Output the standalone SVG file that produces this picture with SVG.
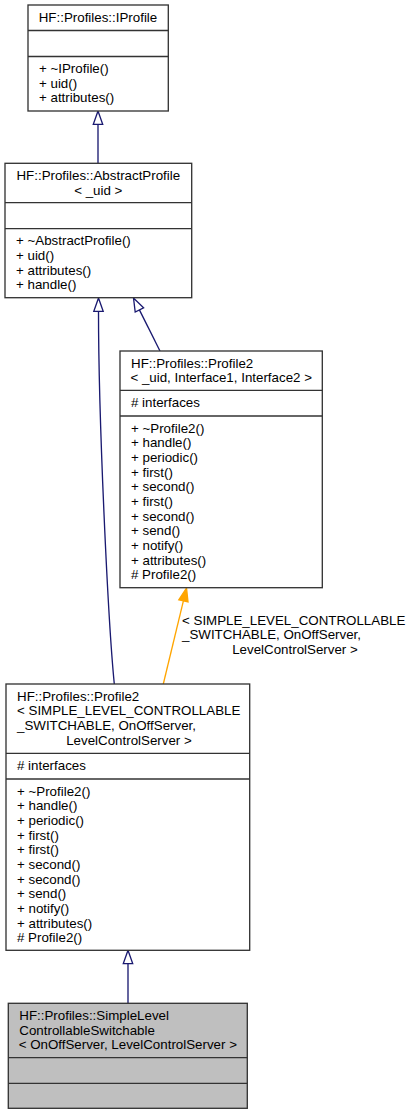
<svg xmlns="http://www.w3.org/2000/svg" width="412" height="1115" viewBox="0 0 412 1115">
<style>
.box{fill:#ffffff;stroke:#333333;stroke-width:1.33}
.gbox{fill:#bfbfbf;stroke:#333333;stroke-width:1.33}
.div{stroke:#333333;stroke-width:1.33}
text{font-family:"Liberation Sans",Arial,Helvetica,sans-serif;font-size:13.33px;fill:#000000}
.c{text-anchor:middle}
.inh{fill:none;stroke:#191970;stroke-width:1.33}
.inhHead{fill:#ffffff;stroke:#191970;stroke-width:1.33}
.tpl{fill:none;stroke:#ffa500;stroke-width:1.33}
.tplHead{fill:#ffa500;stroke:#ffa500;stroke-width:1.33}
</style>
<rect width="412" height="1115" fill="#ffffff"/>

<g id="connectors">
  <!-- AbstractProfile -> IProfile -->
  <path class="inh" d="M98,163.3 L98,124.3"/>
  <polygon class="inhHead" points="98,111 93.3,124.3 102.7,124.3"/>
  <!-- Profile2 (SIMPLE...) -> AbstractProfile -->
  <path class="inh" d="M114.3,684 C108,620 98.5,420 98.5,311.3"/>
  <polygon class="inhHead" points="98.5,298 93.8,311.3 103.2,311.3"/>
  <!-- Profile2 generic -> AbstractProfile -->
  <path class="inh" d="M160,351 L139.4,309.9"/>
  <polygon class="inhHead" points="133.5,298 135.2,312 143.6,307.8"/>
  <!-- Profile2 instance -> Profile2 template -->
  <path class="tpl" d="M163.3,684 L183.4,600.9"/>
  <polygon class="tplHead" points="186.5,588 178.8,599.8 188,602"/>
  <text x="182" y="624.5">&lt; SIMPLE_LEVEL_CONTROLLABLE</text>
  <text x="182" y="639.2">_SWITCHABLE, OnOffServer,</text>
  <text x="295" y="653.8" class="c">LevelControlServer &gt;</text>
  <!-- SimpleLevelControllableSwitchable -> Profile2 instance -->
  <path class="inh" d="M128,1003.3 L128,963.6"/>
  <polygon class="inhHead" points="128,950.3 123.3,963.6 132.7,963.6"/>
</g>

<g id="IProfile">
  <rect class="box" x="28" y="5" width="140.3" height="106"/>
  <line class="div" x1="28" y1="30.5" x2="168.3" y2="30.5"/>
  <line class="div" x1="28" y1="56.5" x2="168.3" y2="56.5"/>
  <text x="98" y="21.5" class="c">HF::Profiles::IProfile</text>
  <text x="39" y="73">+ ~IProfile()</text>
  <text x="39" y="87.7">+ uid()</text>
  <text x="39" y="102.3">+ attributes()</text>
</g>

<g id="AbstractProfile">
  <rect class="box" x="5" y="163.3" width="186.7" height="134.4"/>
  <line class="div" x1="5" y1="202.7" x2="191.7" y2="202.7"/>
  <line class="div" x1="5" y1="228.7" x2="191.7" y2="228.7"/>
  <text x="98.3" y="179.8" class="c">HF::Profiles::AbstractProfile</text>
  <text x="98.3" y="194.5" class="c">&lt; _uid &gt;</text>
  <text x="16" y="245.2">+ ~AbstractProfile()</text>
  <text x="16" y="259.9">+ uid()</text>
  <text x="16" y="274.5">+ attributes()</text>
  <text x="16" y="289.2">+ handle()</text>
</g>

<g id="Profile2Template">
  <rect class="box" x="120" y="351" width="202.3" height="236.7"/>
  <line class="div" x1="120" y1="390.3" x2="322.3" y2="390.3"/>
  <line class="div" x1="120" y1="416" x2="322.3" y2="416"/>
  <text x="131" y="367.5">HF::Profiles::Profile2</text>
  <text x="221.2" y="382.2" class="c">&lt; _uid, Interface1, Interface2 &gt;</text>
  <text x="131" y="406.8"># interfaces</text>
  <text x="131" y="432.5">+ ~Profile2()</text>
  <text x="131" y="447.2">+ handle()</text>
  <text x="131" y="461.8">+ periodic()</text>
  <text x="131" y="476.5">+ first()</text>
  <text x="131" y="491.2">+ second()</text>
  <text x="131" y="505.8">+ first()</text>
  <text x="131" y="520.5">+ second()</text>
  <text x="131" y="535.2">+ send()</text>
  <text x="131" y="549.9">+ notify()</text>
  <text x="131" y="564.5">+ attributes()</text>
  <text x="131" y="579.2"># Profile2()</text>
</g>

<g id="Profile2Instance">
  <rect class="box" x="6" y="684" width="243.7" height="266.3"/>
  <line class="div" x1="6" y1="753.3" x2="249.7" y2="753.3"/>
  <line class="div" x1="6" y1="779" x2="249.7" y2="779"/>
  <text x="17" y="700.5">HF::Profiles::Profile2</text>
  <text x="17" y="715.2">&lt; SIMPLE_LEVEL_CONTROLLABLE</text>
  <text x="17" y="729.8">_SWITCHABLE, OnOffServer,</text>
  <text x="129" y="744.5" class="c">LevelControlServer &gt;</text>
  <text x="17" y="769.8"># interfaces</text>
  <text x="17" y="795.5">+ ~Profile2()</text>
  <text x="17" y="810.2">+ handle()</text>
  <text x="17" y="824.8">+ periodic()</text>
  <text x="17" y="839.5">+ first()</text>
  <text x="17" y="854.2">+ first()</text>
  <text x="17" y="868.8">+ second()</text>
  <text x="17" y="883.5">+ second()</text>
  <text x="17" y="898.2">+ send()</text>
  <text x="17" y="912.9">+ notify()</text>
  <text x="17" y="927.5">+ attributes()</text>
  <text x="17" y="942.2"># Profile2()</text>
</g>

<g id="SimpleLevelControllableSwitchable">
  <rect class="gbox" x="8.3" y="1003.3" width="239" height="105"/>
  <line class="div" x1="8.3" y1="1057.7" x2="247.3" y2="1057.7"/>
  <line class="div" x1="8.3" y1="1083.3" x2="247.3" y2="1083.3"/>
  <text x="19.3" y="1019.8">HF::Profiles::SimpleLevel</text>
  <text x="19.3" y="1034.5">ControllableSwitchable</text>
  <text x="127.8" y="1049.1" class="c">&lt; OnOffServer, LevelControlServer &gt;</text>
</g>
</svg>
